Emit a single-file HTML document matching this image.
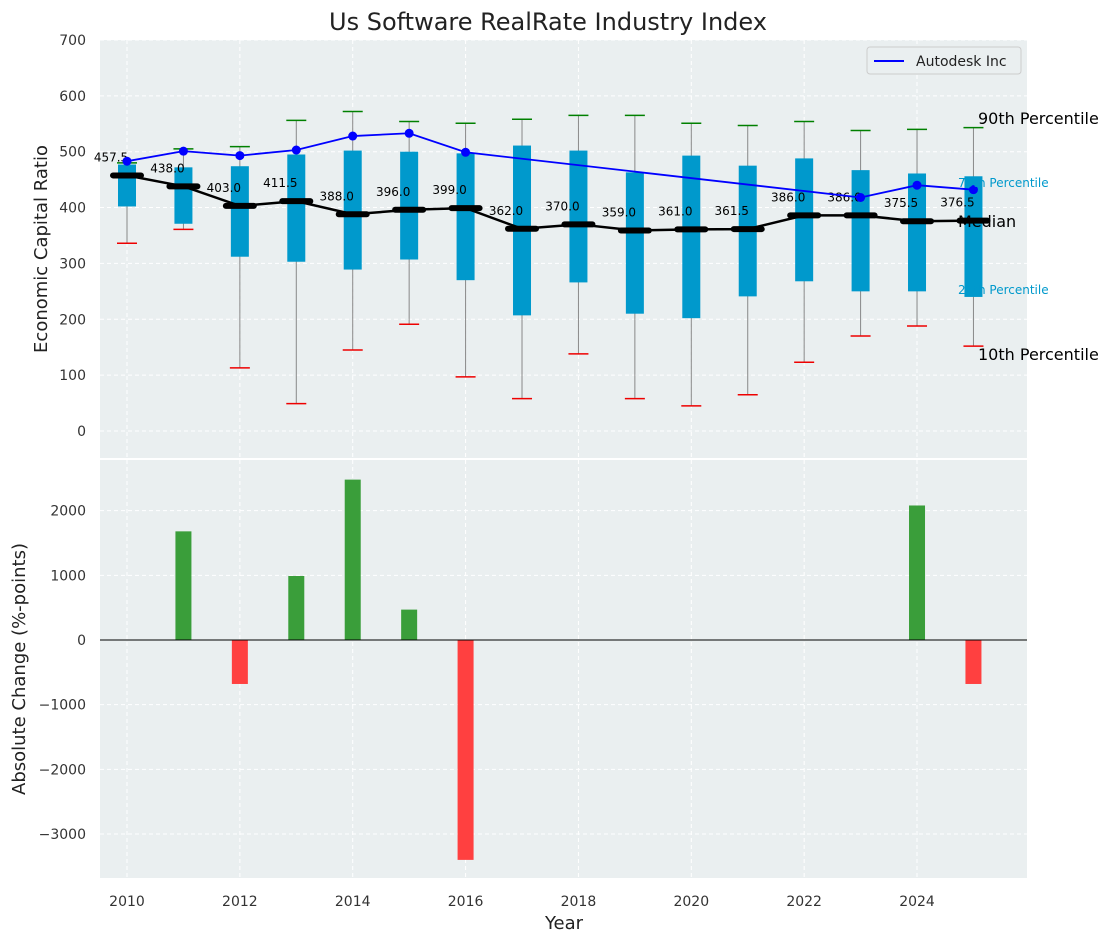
<!DOCTYPE html>
<html><head><meta charset="utf-8"><style>
body{margin:0;background:#fff;font-family:"Liberation Sans","DejaVu Sans",sans-serif}
svg text{font-family:"DejaVu Sans","Liberation Sans",sans-serif}
</style></head><body>
<svg id="chart" width="1114" height="942" xmlns="http://www.w3.org/2000/svg">
<text x="548" y="30" text-anchor="middle" font-size="24" fill="#222">Us Software RealRate Industry Index</text>
<rect x="100" y="40" width="927" height="418" fill="#eaeff0"/>
<rect x="100" y="460" width="927" height="418" fill="#eaeff0"/>
<g id="g"></g>
<text transform="translate(47,249) rotate(-90)" text-anchor="middle" font-size="18" fill="#222">Economic Capital Ratio</text>
<text transform="translate(25,669) rotate(-90)" text-anchor="middle" font-size="18" fill="#222">Absolute Change (%-points)</text>
<text x="564" y="929" text-anchor="middle" font-size="18" fill="#222">Year</text>
<g>
<rect x="867" y="47" width="154" height="27" fill="#eaeff0" stroke="#ccc" rx="3"/>
<line x1="874" y1="61" x2="904" y2="61" stroke="#0000ff" stroke-width="2"/>
<text x="916" y="66" font-size="14" fill="#222">Autodesk Inc</text>
</g>
<text x="978" y="124" font-size="16" fill="#000">90th Percentile</text>
<text x="958" y="187" font-size="12" fill="#0099cc">75th Percentile</text>
<text x="958" y="227" font-size="16" fill="#000">Median</text>
<text x="958" y="294" font-size="12" fill="#0099cc">25th Percentile</text>
<text x="978" y="360" font-size="16" fill="#000">10th Percentile</text>
</svg>
<script>
const years=[2010,2011,2012,2013,2014,2015,2016,2017,2018,2019,2020,2021,2022,2023,2024,2025];
const q1=[402,371,312,303,289,307,270,207,266,210,202,241,268,250,250,240];
const q3=[477,472,474,495,502,500,497,511,502,463,493,475,488,467,461,456];
const p10=[336,361,113,49,145,191,97,58,138,58,45,65,123,170,188,152];
const p90=[480,505,509,556,572,554,551,558,565,565,551,547,554,538,540,543];
const medians=[457.5,438,403,411.5,388,396,399,362,370,359,361,361.5,386,386,375.5,376.5];
const autodesk=[483,501,493,503,528,533,499,null,null,null,null,null,null,418,440,432];
const changes=[0,1680,-680,990,2480,470,-3400,0,0,0,0,0,0,0,2080,-680];
const yTicksTop=[0,100,200,300,400,500,600,700];
const yTicksBot=[-3000,-2000,-1000,0,1000,2000];
const xTicks=[2010,2012,2014,2016,2018,2020,2022,2024];
const X=y=>127+(y-2010)*56.43, YT=v=>431-v*0.5586, YB=v=>640-v*0.06467;
const g=document.getElementById('g');const NS='http://www.w3.org/2000/svg';
function el(t,a,txt){const e=document.createElementNS(NS,t);for(const k in a)e.setAttribute(k,a[k]);if(txt!==undefined)e.textContent=txt;g.appendChild(e);return e;}
xTicks.forEach(t=>{
 let e=el('line',{x1:X(t),x2:X(t),y1:40,y2:458,stroke:'#fff','stroke-dasharray':'4,3'});
 
 e=el('line',{x1:X(t),x2:X(t),y1:460,y2:878,stroke:'#fff','stroke-dasharray':'4,3'});
 
 e=el('text',{x:X(t),y:906,'text-anchor':'middle','font-size':14,fill:'#333'},t);
 
});
yTicksTop.forEach(t=>{
 let e=el('line',{x1:100,x2:1027,y1:YT(t),y2:YT(t),stroke:'#fff','stroke-dasharray':'4,3'});
 
 e=el('text',{x:86,y:YT(t)+5,'text-anchor':'end','font-size':14,fill:'#333'},t);
 
});
yTicksBot.forEach(t=>{
 let e=el('line',{x1:100,x2:1027,y1:YB(t),y2:YB(t),stroke:'#fff','stroke-dasharray':'4,3'});
 
 e=el('text',{x:86,y:YB(t)+5,'text-anchor':'end','font-size':14,fill:'#333'},String(t).replace('-','−'));
 
});
years.forEach((y,i)=>{
 const x=X(y);
 let e=el('line',{x1:x,x2:x,y1:YT(p10[i]),y2:YT(p90[i]),stroke:'#888','stroke-width':1});
 
 e=el('rect',{x:x-9,y:YT(q3[i]),width:18,height:YT(q1[i])-YT(q3[i]),fill:'#0099cc'});
 
 e=el('line',{x1:x-10,x2:x+10,y1:YT(p90[i]),y2:YT(p90[i]),stroke:'#008000','stroke-width':1.5});
 
 e=el('line',{x1:x-10,x2:x+10,y1:YT(p10[i]),y2:YT(p10[i]),stroke:'#e00','stroke-width':1.5});
 
});
let e=el('polyline',{points:years.map((y,i)=>X(y)+','+YT(medians[i])).join(' '),fill:'none',stroke:'#000','stroke-width':2.5});

years.forEach((y,i)=>{
 let m=el('line',{x1:X(y)-14,x2:X(y)+14,y1:YT(medians[i]),y2:YT(medians[i]),stroke:'#000','stroke-width':6,'stroke-linecap':'round'});
 
 m=el('text',{x:X(y)-16,y:YT(medians[i])-14,'text-anchor':'middle','font-size':12,fill:'#000'},medians[i].toFixed(1));
 
});
const pts=years.map((y,i)=>autodesk[i]==null?null:[X(y),YT(autodesk[i])]).filter(p=>p);
e=el('polyline',{points:pts.map(p=>p.join(',')).join(' '),fill:'none',stroke:'#0000ff','stroke-width':1.8});

pts.forEach(p=>{let c=el('circle',{cx:p[0],cy:p[1],r:4.5,fill:'#0000ff'});
 });
years.forEach((y,i)=>{
 const v=changes[i];if(!v)return;
 let b=el('rect',{x:X(y)-8,y:Math.min(YB(v),YB(0)),width:16,height:Math.abs(YB(v)-YB(0)),fill:v>0?'#3a9e3a':'#ff4040'});
 
});
e=el('line',{x1:100,x2:1027,y1:YB(0),y2:YB(0),stroke:'#000','stroke-width':1});

</script>
</body></html>
